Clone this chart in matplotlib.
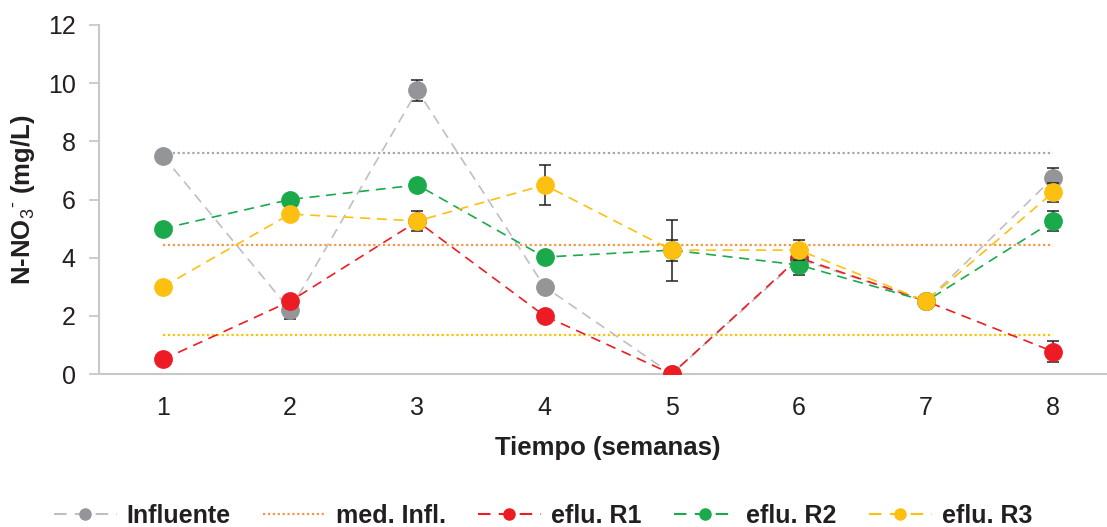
import matplotlib
matplotlib.use("Agg")
import matplotlib.pyplot as plt
from matplotlib.lines import Line2D

plt.rcParams['font.family'] = ['Liberation Sans', 'DejaVu Sans']
plt.rcParams['mathtext.fontset'] = 'custom'
plt.rcParams['mathtext.rm'] = 'Liberation Sans'
plt.rcParams['mathtext.bf'] = 'Liberation Sans:bold'

weeks = [1, 2, 3, 4, 5, 6, 7, 8]
influente = [7.5, 2.2, 9.75, 3.0, 0.0, 3.95, 2.5, 6.75]
influente_err = [0.0, 0.3, 0.35, 0.0, 0.0, 0.0, 0.0, 0.35]
r1 = [0.5, 2.5, 5.25, 2.0, 0.0, 4.0, 2.5, 0.77]
r1_err = [0.0, 0.0, 0.0, 0.0, 0.0, 0.0, 0.0, 0.35]
r2 = [5.0, 6.0, 6.5, 4.02, 4.26, 3.75, 2.5, 5.26]
r2_err = [0.0, 0.0, 0.0, 0.0, 0.36, 0.35, 0.0, 0.34]
r3 = [3.0, 5.5, 5.26, 6.5, 4.26, 4.26, 2.5, 6.25]
r3_err = [0.0, 0.0, 0.35, 0.7, 1.05, 0.35, 0.0, 0.33]

ref_upper = 7.6
med_infl = 4.45
ref_lower = 1.33

labels = ['Influente', 'med. Infl.', 'eflu. R1', 'eflu. R2', 'eflu. R3']

fig = plt.figure(figsize=(11.07, 5.27), dpi=100)
ax = fig.add_axes([99.3 / 1107, 1 - 374 / 527, 1017.6 / 1107, 349 / 527])

# reference dotted lines
ax.plot([weeks[0], weeks[-1]], [ref_upper] * 2, linestyle=(0, (1, 1.2)), color='#A6A6A6', lw=1.6, zorder=1)
ax.plot([weeks[0], weeks[-1]], [med_infl] * 2, linestyle=(0, (1, 1.2)), color='#F79646', lw=1.6, zorder=1)
ax.plot([weeks[0], weeks[-1]], [ref_lower] * 2, linestyle=(0, (1, 1.2)), color='#FFC000', lw=1.6, zorder=1)

series = [
    (influente, influente_err, '#BFBFBF', '#939598'),
    (r1, r1_err, '#ED1C24', '#ED1C24'),
    (r2, r2_err, '#1AAA4B', '#1AAA4B'),
    (r3, r3_err, '#FDC010', '#FDC010'),
]
dash = (0, (6, 4))
for i, (vals, errs, lc, mc) in enumerate(series):
    ax.errorbar(weeks, vals, yerr=errs, fmt='none', ecolor='#231F20', elinewidth=1.1,
                capsize=4.5, capthick=1.1, zorder=2 + 2 * i)
    ax.plot(weeks, vals, linestyle=dash, color=lc, lw=1.2, zorder=3 + 2 * i)
    ax.plot(weeks, vals, linestyle='none', marker='o', markersize=12.5,
            markerfacecolor=mc, markeredgecolor=mc, zorder=3 + 2 * i)

ax.set_xlim(0.5, 8.5)
ax.set_ylim(0, 12)
ax.set_xticks(weeks)
ax.set_yticks([0, 2, 4, 6, 8, 10, 12])
ax.tick_params(axis='x', length=0, labelsize=18, pad=16, colors='#231F20')
ax.tick_params(axis='y', length=7, width=1.3, color='#C8C8C8', labelsize=18, pad=10, labelcolor='#231F20')
for s in ['top', 'right']:
    ax.spines[s].set_visible(False)
for s in ['left', 'bottom']:
    ax.spines[s].set_color('#C8C8C8')
    ax.spines[s].set_linewidth(1.5)

ax.set_xlabel('Tiempo (semanas)', fontsize=18.5, fontweight='bold', color='#231F20', labelpad=11)
ax.set_ylabel('N-NO$_3$$^{\u2010}$ (mg/L)', fontsize=18.5, fontweight='bold', color='#231F20', labelpad=8)

handles = [
    Line2D([], [], linestyle=dash, color='#BFBFBF', lw=1.5, marker='o', markersize=8,
           markerfacecolor='#939598', markeredgecolor='#939598'),
    Line2D([], [], linestyle=(0, (1, 1.2)), color='#F79646', lw=1.6),
    Line2D([], [], linestyle=dash, color='#ED1C24', lw=1.5, marker='o', markersize=8,
           markerfacecolor='#ED1C24', markeredgecolor='#ED1C24'),
    Line2D([], [], linestyle=dash, color='#1AAA4B', lw=1.5, marker='o', markersize=8,
           markerfacecolor='#1AAA4B', markeredgecolor='#1AAA4B'),
    Line2D([], [], linestyle=dash, color='#FDC010', lw=1.5, marker='o', markersize=8,
           markerfacecolor='#FDC010', markeredgecolor='#FDC010'),
]
fig.legend(handles, labels, loc='center', bbox_to_anchor=(543 / 1107, 1 - 516 / 527), ncol=5,
           frameon=False, handlelength=2.5, handletextpad=0.4, columnspacing=1.3,
           prop={'size': 18, 'weight': 'bold'}, labelcolor='#231F20')

fig.savefig('out.png', dpi=100)
